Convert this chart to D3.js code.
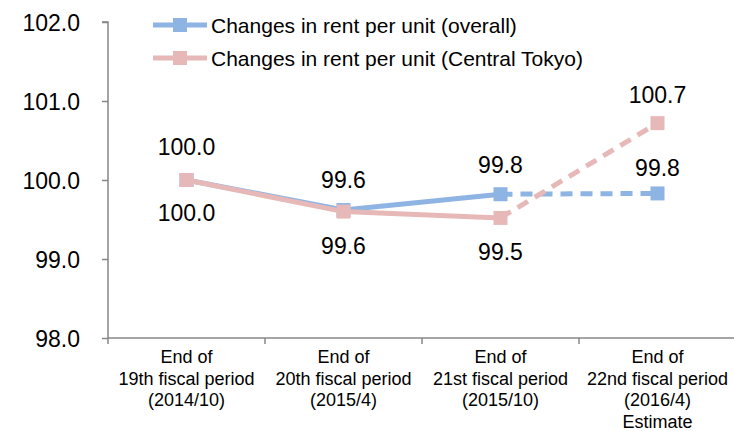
<!DOCTYPE html>
<html>
<head>
<meta charset="utf-8">
<script src="https://cdn.jsdelivr.net/npm/d3@7"></script>
<style>
  body { margin: 0; background: #fff; }
  svg text { font-family: "Liberation Sans", Arial, sans-serif; fill: #000; }
</style>
</head>
<body>
<svg id="chart" width="734" height="431"></svg>
<script>
const categories = [
  ["End of", "19th fiscal period", "(2014/10)"],
  ["End of", "20th fiscal period", "(2015/4)"],
  ["End of", "21st fiscal period", "(2015/10)"],
  ["End of", "22nd fiscal period", "(2016/4)", "Estimate"]
];
const overall = [100.0, 99.62, 99.82, 99.83];
const central = [100.0, 99.6, 99.52, 100.72];
const yTicks = [98, 99, 100, 101, 102];
const seriesNames = ["Changes in rent per unit (overall)", "Changes in rent per unit (Central Tokyo)"];

const colors = { overall: "#8eb4e3", central: "#e6b9b8", axis: "#878787" };
const margin = { left: 108, top: 22, right: -2, bottom: 93 };
const W = 734, H = 431;

const svg = d3.select("#chart");

const x = d3.scaleBand()
  .domain(d3.range(categories.length))
  .range([margin.left, W - margin.right]);
const y = d3.scaleLinear().domain([98, 102]).range([H - margin.bottom, margin.top]);

// y axis
const yAxis = svg.append("g")
  .attr("transform", `translate(${margin.left},0)`)
  .call(d3.axisLeft(y).tickValues(yTicks).tickSize(6).tickPadding(22).tickFormat(d3.format(".1f")));
yAxis.select(".domain").attr("stroke", colors.axis).attr("stroke-width", 1.5)
  .attr("d", `M-6,${y(102)}H0V${y(98)}`);
yAxis.selectAll(".tick line").attr("stroke", colors.axis).attr("stroke-width", 1.5);
yAxis.selectAll(".tick text").style("font-size", "23px").attr("dy", "0.36em");

// x axis
const xAxisY = y(98);
svg.append("line")
  .attr("x1", margin.left).attr("x2", W)
  .attr("y1", xAxisY).attr("y2", xAxisY)
  .attr("stroke", colors.axis).attr("stroke-width", 1.5);
svg.selectAll(".xtick")
  .data(d3.range(categories.length + 1))
  .enter().append("line")
  .attr("x1", (d) => margin.left + d * x.bandwidth())
  .attr("x2", (d) => margin.left + d * x.bandwidth())
  .attr("y1", xAxisY).attr("y2", xAxisY + 6)
  .attr("stroke", colors.axis).attr("stroke-width", 1.5);

const catLabels = svg.selectAll(".cat")
  .data(categories)
  .enter().append("text")
  .attr("class", "cat")
  .attr("text-anchor", "middle")
  .style("font-size", "18px");
catLabels.selectAll("tspan")
  .data((d, i) => d.map((t) => ({ t, i })))
  .enter().append("tspan")
  .attr("x", (d) => x(d.i) + x.bandwidth() / 2)
  .attr("y", (d, j) => 363 + j * 21.5)
  .text((d) => d.t);

// series
const cx = (i) => x(i) + x.bandwidth() / 2;

function drawSeries(values, color, labelOffsets) {
  const g = svg.append("g");
  const pts = values.map((v, i) => [cx(i), y(v)]);
  g.append("path")
    .attr("d", d3.line()(pts.slice(0, 3)))
    .attr("fill", "none").attr("stroke", color).attr("stroke-width", 5);
  g.append("path")
    .attr("d", d3.line()(pts.slice(2)))
    .attr("fill", "none").attr("stroke", color).attr("stroke-width", 5)
    .attr("stroke-dasharray", "12,8");
  g.selectAll("rect")
    .data(pts)
    .enter().append("rect")
    .attr("x", (d) => d[0] - 7).attr("y", (d) => d[1] - 7)
    .attr("width", 14).attr("height", 14)
    .attr("fill", color);
  g.selectAll("text")
    .data(values)
    .enter().append("text")
    .attr("x", (d, i) => cx(i))
    .attr("y", (d, i) => y(d) + labelOffsets[i])
    .attr("text-anchor", "middle")
    .style("font-size", "23px")
    .text((d) => d.toFixed(1));
}

drawSeries(overall, colors.overall, [-25, -22, -21, -17]);
drawSeries(central, colors.central, [41, 42, 42, -20]);

// legend
const legend = svg.append("g");
[colors.overall, colors.central].forEach((c, i) => {
  const ly = 25 + i * 33;
  legend.append("line")
    .attr("x1", 153).attr("x2", 207).attr("y1", ly).attr("y2", ly)
    .attr("stroke", c).attr("stroke-width", 5);
  legend.append("rect")
    .attr("x", 173).attr("y", ly - 7).attr("width", 14).attr("height", 14)
    .attr("fill", c);
  legend.append("text")
    .attr("x", 211).attr("y", ly).attr("dy", "0.36em")
    .style("font-size", "21px")
    .text(seriesNames[i]);
});
</script>
</body>
</html>
